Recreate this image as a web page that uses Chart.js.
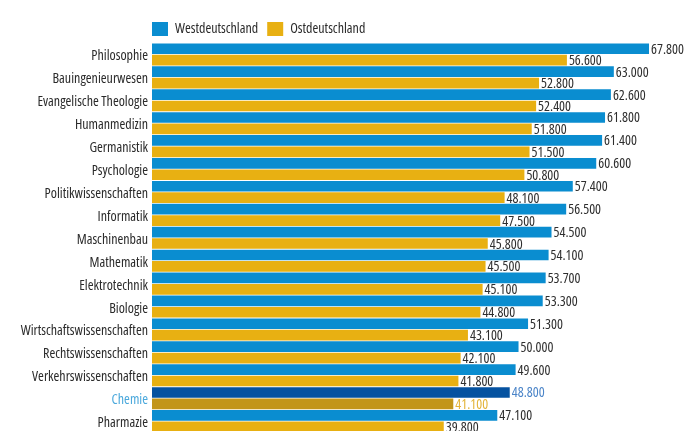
<!DOCTYPE html>
<html>
<head>
<meta charset="utf-8">
<style>
  html, body { margin: 0; padding: 0; background: #fff; overflow: hidden; }
</style>
<script src="https://cdn.jsdelivr.net/npm/chart.js"></script>
</head>
<body>
<canvas id="chart" width="693" height="445"></canvas>
<script>
const categories = ['Philosophie', 'Bauingenieurwesen', 'Evangelische Theologie', 'Humanmedizin', 'Germanistik',
  'Psychologie', 'Politikwissenschaften', 'Informatik', 'Maschinenbau', 'Mathematik', 'Elektrotechnik',
  'Biologie', 'Wirtschaftswissenschaften', 'Rechtswissenschaften', 'Verkehrswissenschaften', 'Chemie', 'Pharmazie'];
const west = [67800, 63000, 62600, 61800, 61400, 60600, 57400, 56500, 54500, 54100, 53700, 53300, 51300, 50000, 49600, 48800, 47100];
const ost = [56600, 52800, 52400, 51800, 51500, 50800, 48100, 47500, 45800, 45500, 45100, 44800, 43100, 42100, 41800, 41100, 39800];
const highlight = 'Chemie';

const FAMILY = "'Open Sans', sans-serif";
const STRETCH = 'condensed'; // passed through font.weight so it lands before the size in the font string
const hi = categories.indexOf(highlight);
const pick = (normal, special) => categories.map((c, i) => (i === hi ? special : normal));

// value labels at the bar ends
const valueLabels = {
  id: 'valueLabels',
  afterDatasetsDraw(chart) {
    const ctx = chart.ctx;
    ctx.save();
    ctx.font = STRETCH + ' 14px ' + FAMILY;
    ctx.textAlign = 'left';
    ctx.textBaseline = 'middle';
    chart.data.datasets.forEach((ds, di) => {
      chart.getDatasetMeta(di).data.forEach((bar, i) => {
        ctx.fillStyle = ds.labelColors[i];
        ctx.fillText(ds.data[i].toLocaleString('de-DE'), bar.x + 2, bar.y + 1);
      });
    });
    ctx.restore();
  }
};

// legend sits flush with the bars' left edge
const legendShift = {
  id: 'legendShift',
  afterLayout(chart) {
    const lg = chart.legend;
    lg.left -= 9; lg.right -= 9;
    lg.top += 3; lg.bottom += 3;
  }
};

function draw() {
  new Chart(document.getElementById('chart'), {
    type: 'bar',
    data: {
      labels: categories,
      datasets: [
        { label: 'Westdeutschland', data: west, backgroundColor: pick('#0a8dd0', '#0552a0'),
          labelColors: pick('#2e2e2e', '#4a84c8'), barPercentage: 0.93, categoryPercentage: 1 },
        { label: 'Ostdeutschland', data: ost, backgroundColor: pick('#e8b012', '#c2951a'),
          labelColors: pick('#2e2e2e', '#e3b43a'), barPercentage: 0.93, categoryPercentage: 1 }
      ]
    },
    options: {
      indexAxis: 'y',
      responsive: false,
      animation: false,
      layout: { padding: { top: 10, right: 0, left: 0, bottom: 0 } },
      scales: {
        x: { display: false, min: 0, max: 73800 },
        y: {
          grid: { display: false, drawTicks: false, tickLength: 0 },
          border: { display: false },
          ticks: {
            font: { family: FAMILY, size: 14, weight: STRETCH },
            color: (c) => (c.index === hi ? '#4aa8dc' : '#2a2a2a'),
            padding: 4,
            labelOffset: 2
          },
          afterFit(scale) { scale.width = 152; }
        }
      },
      plugins: {
        legend: {
          position: 'top',
          align: 'start',
          fullSize: false,
          labels: {
            boxWidth: 16, boxHeight: 14, padding: 9,
            color: '#2a2a2a',
            font: { family: FAMILY, size: 14, weight: STRETCH }
          }
        },
        tooltip: { enabled: false }
      }
    },
    plugins: [valueLabels, legendShift]
  });
}

document.fonts.load(STRETCH + ' 14px ' + FAMILY).then(draw, draw);
</script>
</body>
</html>
